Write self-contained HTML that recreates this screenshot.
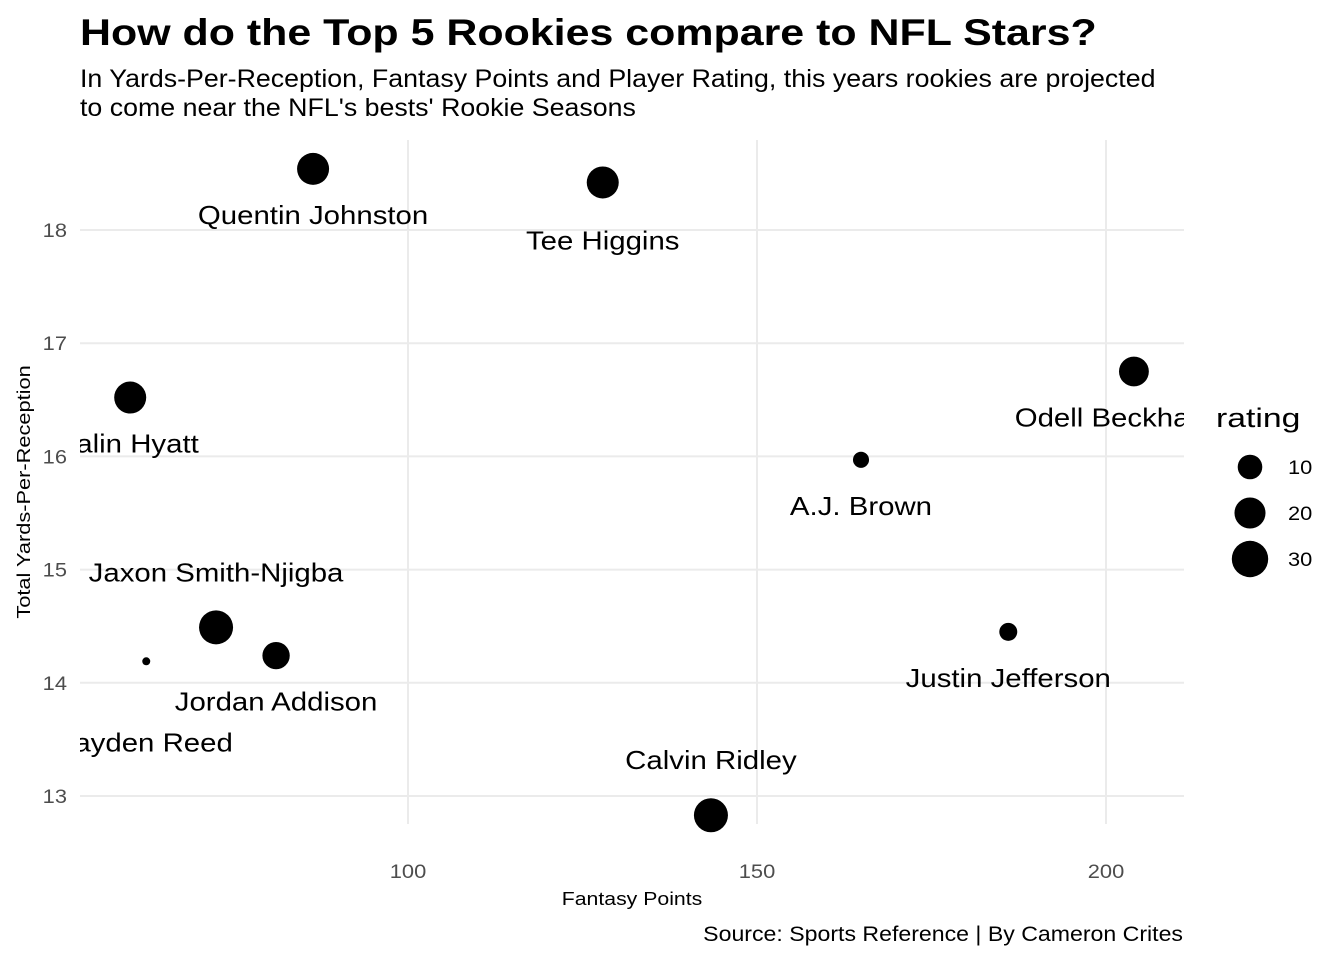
<!DOCTYPE html>
<html><head><meta charset="utf-8"><style>
body{margin:0;background:#fff;}
svg text{font-family:"Liberation Sans",Arial,sans-serif;}
</style></head><body>
<svg id="chart" width="1344" height="960">
<defs><clipPath id="pc"><rect x="80" y="0" width="1104" height="960"/></clipPath></defs>
<text x="80" y="45" font-size="37" font-weight="bold" data-s="1.16">How do the Top 5 Rookies compare to NFL Stars?</text>
<text x="80" y="87" font-size="25" data-s="1.07">In Yards-Per-Reception, Fantasy Points and Player Rating, this years rookies are projected</text>
<text x="80" y="116" font-size="25" data-s="1.07">to come near the NFL's bests' Rookie Seasons</text>
<g id="grid"></g>
<g id="marks"></g>
<g id="labels" clip-path="url(#pc)"></g>
<text x="632" y="905" font-size="18" text-anchor="middle" data-s="1.18">Fantasy Points</text>
<text transform="translate(30,492) rotate(-90)" font-size="18" text-anchor="middle" data-s="1.21">Total Yards-Per-Reception</text>
<text x="1183" y="941" font-size="21" text-anchor="end" data-s="1.1">Source: Sports Reference | By Cameron Crites</text>
<g id="legend"></g>
</svg>
<script>
const players=["Quentin Johnston","Tee Higgins","Jalin Hyatt","Odell Beckham Jr.","A.J. Brown","Justin Jefferson","Jaxon Smith-Njigba","Jordan Addison","Jayden Reed","Calvin Ridley"];
const fantasyPoints=[86.4,127.9,60.2,204.0,164.9,186.0,72.5,81.1,62.5,143.4];
const yardsPerReception=[18.54,18.42,16.52,16.75,15.97,14.45,14.49,14.24,14.19,12.83];
const ratings=[21.7,21.7,21.7,18,0.4,2.2,25.4,14,-5,25.4];
const labelAbove=[false,false,false,false,false,false,true,false,false,true];
const xTicks=[100,150,200];
const yTicks=[13,14,15,16,17,18];
const legendValues=[10,20,30];
const NS="http://www.w3.org/2000/svg";
const X=v=>408+(v-100)*6.98;
const Y=v=>230-(v-18)*113.2;
const R=v=>Math.sqrt(16+9*(v+5));
function mk(t,a,p){const e=document.createElementNS(NS,t);for(const k in a)e.setAttribute(k,a[k]);document.getElementById(p).appendChild(e);return e;}
yTicks.forEach(t=>{
 const l=mk('line',{x1:80,x2:1184,y1:Y(t),y2:Y(t),stroke:'#ebebeb','stroke-width':2},'grid');
 
 
 const tx=mk('text',{x:67,y:Y(t)+7,'font-size':19,fill:'#4d4d4d','text-anchor':'end','data-s':'1.15'},'grid');tx.textContent=t;
 
 
});
xTicks.forEach(t=>{
 const l=mk('line',{x1:X(t),x2:X(t),y1:140,y2:824,stroke:'#ebebeb','stroke-width':2},'grid');
 
 
 const tx=mk('text',{x:X(t),y:878,'font-size':19,fill:'#4d4d4d','text-anchor':'middle','data-s':'1.15'},'grid');tx.textContent=t;
 
 
});
players.forEach((p,i)=>{
 const cx=X(fantasyPoints[i]),cy=Y(yardsPerReception[i]);
 const c=mk('circle',{cx:cx,cy:cy,r:R(ratings[i]),fill:'#000'},'marks');
 
 
 const off=labelAbove[i]?-46:(p==="Jayden Reed"?90:(p==="Tee Higgins"?67:55));
 const t=mk('text',{x:cx,y:cy+off,'font-size':26,'text-anchor':'middle','data-s':'1.13'},'labels');t.textContent=p;
 
 
});
const lt=mk('text',{x:1216,y:427,'font-size':27,'data-s':'1.25'},'legend');lt.textContent='rating';


legendValues.forEach((v,i)=>{
 const y=467+i*46;
 const c=mk('circle',{cx:1250,cy:y,r:R(v),fill:'#000'},'legend');
 
 
 const t=mk('text',{x:1288,y:y+7,'font-size':19,'data-s':'1.15'},'legend');t.textContent=v;
 
 
});
document.querySelectorAll('text[data-s]').forEach(t=>{
 const w=t.getComputedTextLength()*parseFloat(t.getAttribute('data-s'));
 t.setAttribute('textLength',w.toFixed(1));
 t.setAttribute('lengthAdjust','spacingAndGlyphs');
});
</script>
</body></html>
